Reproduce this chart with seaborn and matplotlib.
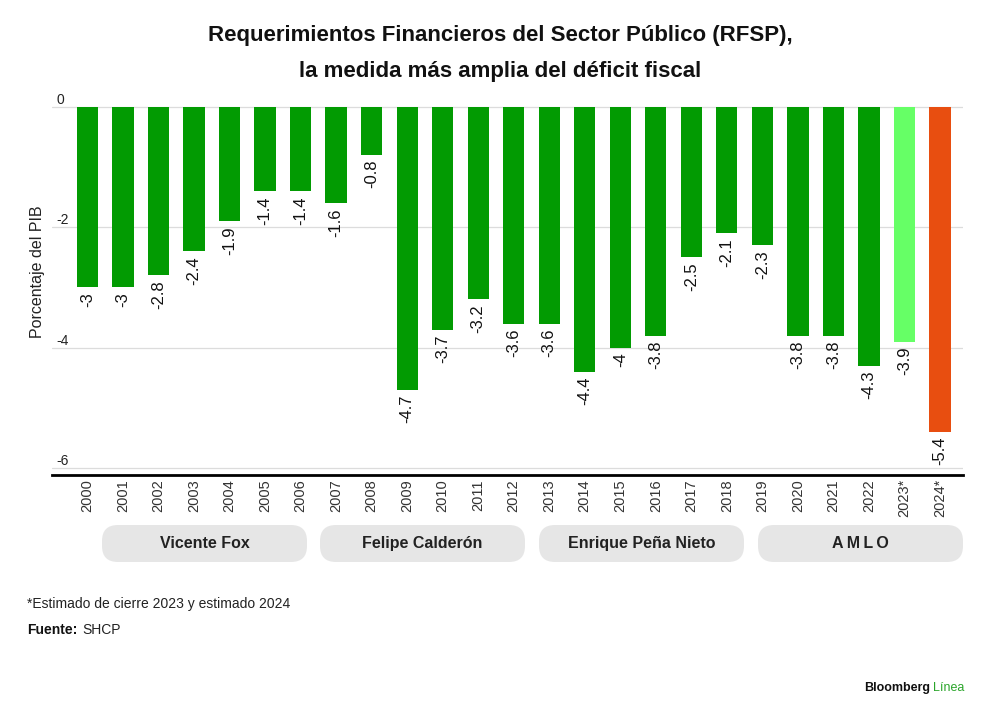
import matplotlib
matplotlib.use("Agg")
import numpy as np
import pandas as pd
import seaborn as sns
import matplotlib.pyplot as plt
from matplotlib.patches import FancyBboxPatch

# datos
years = ["2000", "2001", "2002", "2003", "2004", "2005", "2006", "2007", "2008",
         "2009", "2010", "2011", "2012", "2013", "2014", "2015", "2016", "2017",
         "2018", "2019", "2020", "2021", "2022", "2023*", "2024*"]
rfsp = [-3, -3, -2.8, -2.4, -1.9, -1.4, -1.4, -1.6, -0.8,
        -4.7, -3.7, -3.2, -3.6, -3.6, -4.4, -4, -3.8, -2.5,
        -2.1, -2.3, -3.8, -3.8, -4.3, -3.9, -5.4]
presidents = ["Vicente Fox", "Felipe Calderón", "Enrique Peña Nieto", "A\u2009M\u2009L\u2009O"]
y_ticks = [0, -2, -4, -6]

GREEN = "#029b02"
LIGHT = "#66ff66"
ORANGE = "#e84e10"
colors = [GREEN] * (len(years) - 2) + [LIGHT, ORANGE]

sns.set_theme(style="white")
plt.rcParams["font.family"] = ["Liberation Sans", "DejaVu Sans"]

df = pd.DataFrame({"year": years, "value": rfsp})

fig = plt.figure(figsize=(10, 7.14), dpi=100)
ax = fig.add_axes([0.052, 0.3347, 0.911, 0.5238])

sns.barplot(data=df, x="year", y="value", hue="year", palette=colors,
            legend=False, width=0.6, saturation=1, linewidth=0, ax=ax)

ax.set_xlim(-1.0, 24.65)
ax.set_ylim(-6.12, 0.1)
ax.set_yticks(y_ticks)
ax.set_yticklabels([str(t) for t in y_ticks])
ax.yaxis.grid(True, color="#dcdcdc", linewidth=0.9)
ax.set_axisbelow(True)
for lab in ax.get_yticklabels():
    lab.set_horizontalalignment("left")
    lab.set_verticalalignment("bottom")
ax.tick_params(axis="y", length=0, pad=-3, labelsize=10, labelcolor="#222222")
ax.tick_params(axis="x", length=0, pad=3, labelsize=10.5, labelcolor="#333333", labelrotation=90)

for s in ["top", "left", "right"]:
    ax.spines[s].set_visible(False)
ax.spines["bottom"].set_color("black")
ax.spines["bottom"].set_linewidth(2)

ax.set_xlabel("")
ax.set_ylabel("")
fig.text(0.038, 0.62, "Porcentaje del PIB", rotation=90, ha="center", va="center",
         fontsize=11.5, color="#222222")

# etiquetas de valor
for i, v in enumerate(rfsp):
    txt = f"{v:g}"
    ax.text(i, v - 0.08, txt, rotation=90, ha="center", va="top",
            fontsize=12, color="#111111")

# cajas de sexenios
W, H = 1000, 714
box_x = [102, 320, 539, 758]
for bx, name in zip(box_x, presidents):
    patch = FancyBboxPatch((bx / W, 1 - 562 / H), 205 / W, 37 / H,
                           boxstyle="round,pad=0,rounding_size=0.016",
                           transform=fig.transFigure, facecolor="#e6e6e6",
                           edgecolor="none", mutation_aspect=W / H)
    fig.patches.append(patch)
    fig.text((bx + 102.5) / W, 1 - 543.5 / H, name, ha="center", va="center",
             fontsize=11.5, fontweight="bold", color="#222222")

# titulo
fig.text(0.5, 1 - 35 / H, "Requerimientos Financieros del Sector Público (RFSP),",
         ha="center", va="center", fontsize=16, fontweight="bold", color="#111111")
fig.text(0.5, 1 - 71 / H, "la medida más amplia del déficit fiscal",
         ha="center", va="center", fontsize=16, fontweight="bold", color="#111111")

# notas
fig.text(0.027, 1 - 604 / H, "*Estimado de cierre 2023 y estimado 2024",
         ha="left", va="center", fontsize=10, color="#222222")
fig.text(0.027, 1 - 630 / H, "Fuente:", ha="left", va="center",
         fontsize=10, fontweight="bold", color="#111111")
fig.text(0.082, 1 - 630 / H, "SHCP", ha="left", va="center", fontsize=10,
         color="#222222")
fig.text(0.93, 1 - 688 / H, "Bloomberg", ha="right", va="center",
         fontsize=9, fontweight="bold", color="#111111")
fig.text(0.933, 1 - 688 / H, "Línea", ha="left", va="center",
         fontsize=9, color="#2aa52a")

fig.savefig("out.png", dpi=100)
